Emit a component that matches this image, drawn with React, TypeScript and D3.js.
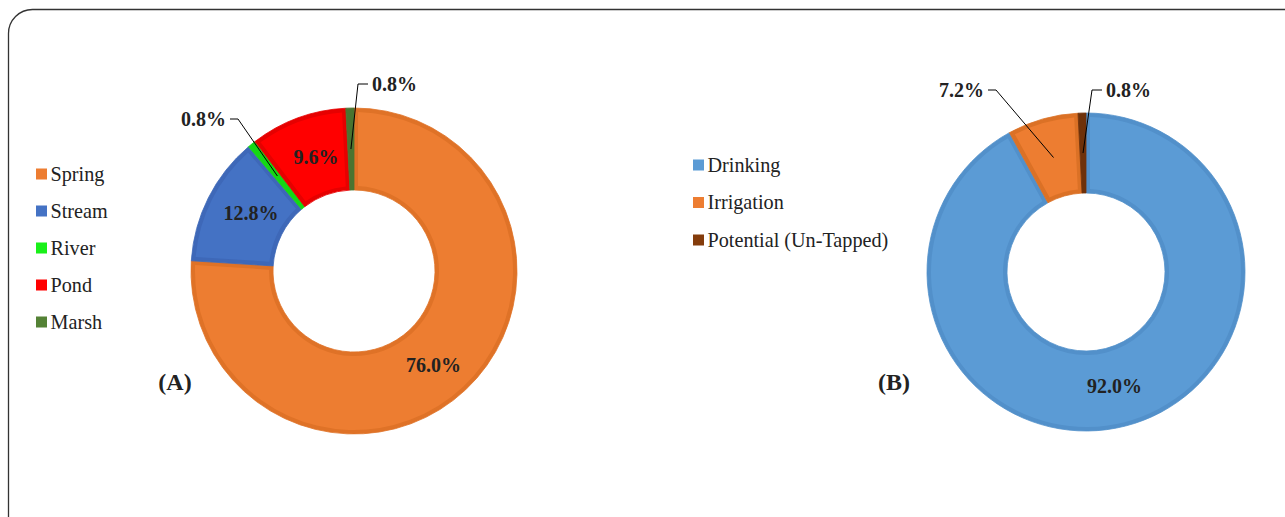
import React from "react";
import * as d3 from "d3";

// ---- Data ----
const sourceCategories = ["Spring", "Stream", "River", "Pond", "Marsh"];
const sourceValues = [76.0, 12.8, 0.8, 9.6, 0.8];
const sourceColors = ["#ED7D31", "#4472C4", "#19F019", "#FF0000", "#548235"];
const sourceEdge = ["#DF7227", "#3E68B8", "#14D814", "#E60000", "#4A7430"];

const useCategories = ["Drinking", "Irrigation", "Potential (Un-Tapped)"];
const useValues = [92.0, 7.2, 0.8];
const useColors = ["#5B9BD5", "#ED7D31", "#843C0C"];
const useEdge = ["#5290CA", "#DB7126", "#6E310A"];

const panelLetters = ["(A)", "(B)"];

const W = 1285;
const H = 517;
const FONT = "Liberation Serif";
const TEXT = "#222";

type DonutProps = {
  cx: number;
  cy: number;
  ro: number;
  ri: number;
  values: number[];
  colors: string[];
  edges: string[];
  outside: Record<number, { lx: number; ly: number; anchor: "start" | "end" }>;
  inOffsets: Record<number, [number, number]>;
};

function Donut({ cx, cy, ro, ri, values, colors, edges, outside, inOffsets }: DonutProps) {
  const pie = d3.pie<number>().sort(null).value((d) => d);
  const arcs = pie(values);
  const full = d3.arc<d3.PieArcDatum<number>>().innerRadius(ri).outerRadius(ro);
  const inner = d3
    .arc<d3.PieArcDatum<number>>()
    .innerRadius(ri + 4)
    .outerRadius(ro - 4)
    .padRadius((ri + ro) / 2)
    .padAngle(8 / ((ri + ro) / 2));
  const mid = d3.arc<d3.PieArcDatum<number>>().innerRadius((ri + ro) / 2).outerRadius((ri + ro) / 2);
  return (
    <g transform={`translate(${cx},${cy})`}>
      {arcs.map((a, i) => (
        <g key={i}>
          <path d={full(a) || ""} fill={edges[i]} stroke={edges[i]} strokeWidth={0.8} />
          {a.endAngle - a.startAngle > 0.1 && <path d={inner(a) || ""} fill={colors[i]} />}
        </g>
      ))}
      {arcs.map((a, i) => {
        const [mx, my] = mid.centroid(a);
        const label = `${values[i].toFixed(1)}%`;
        const o = outside[i];
        if (o) {
          const lx = o.lx - cx;
          const ly = o.ly - cy;
          const gap = o.anchor === "end" ? 4 : -4;
          const elbow = o.anchor === "end" ? 12 : -14;
          return (
            <g key={"l" + i}>
              <polyline
                points={`${lx + gap},${ly} ${lx + elbow},${ly} ${mx},${my}`}
                fill="none"
                stroke="#000"
                strokeWidth={1}
              />
              <text
                x={lx}
                y={ly}
                textAnchor={o.anchor}
                dominantBaseline="central"
                style={{ fontFamily: FONT, fontWeight: "bold", fontSize: 20 }}
                fill={TEXT}
              >
                {label}
              </text>
            </g>
          );
        }
        const off = inOffsets[i] || [0, 0];
        return (
          <text
            key={"l" + i}
            x={mx + off[0]}
            y={my + off[1]}
            textAnchor="middle"
            dominantBaseline="central"
            style={{ fontFamily: FONT, fontWeight: "bold", fontSize: 20 }}
            fill={TEXT}
          >
            {label}
          </text>
        );
      })}
    </g>
  );
}

function Legend({ x, y, step, items, colors }: { x: number; y: number; step: number; items: string[]; colors: string[] }) {
  return (
    <g>
      {items.map((t, i) => (
        <g key={t} transform={`translate(${x},${y + i * step})`}>
          <rect x={0} y={-5.5} width={11} height={11} fill={colors[i]} />
          <text x={14.5} y={6.5} style={{ fontFamily: FONT, fontSize: 20.2 }} fill={TEXT}>
            {t}
          </text>
        </g>
      ))}
    </g>
  );
}

export default function App() {
  return (
    <svg
      width={W}
      height={H}
      style={{ position: "absolute", left: 0, top: 0, background: "#fff", fontFamily: FONT }}
    >
      <rect x={8.5} y={9.5} width={1320} height={560} rx={24} ry={24} fill="#fff" stroke="#333" strokeWidth={1.3} />

      <Donut
        cx={354}
        cy={271}
        ro={163}
        ri={81}
        values={sourceValues}
        colors={sourceColors}
        edges={sourceEdge}
        outside={{
          2: { lx: 226, ly: 119, anchor: "end" },
          4: { lx: 372, ly: 84, anchor: "start" },
        }}
        inOffsets={{ 0: [-4, 5], 1: [6, -3], 3: [4, 1] }}
      />
      <Donut
        cx={1086}
        cy={272}
        ro={159}
        ri={79}
        values={useValues}
        colors={useColors}
        edges={useEdge}
        outside={{
          1: { lx: 984, ly: 90, anchor: "end" },
          2: { lx: 1106, ly: 90, anchor: "start" },
        }}
        inOffsets={{ 0: [-1, -1] }}
      />

      <Legend x={36} y={174} step={37} items={sourceCategories} colors={sourceColors} />
      <Legend x={693} y={165} step={37.5} items={useCategories} colors={useColors} />

      <text x={175} y={382} textAnchor="middle" dominantBaseline="central" style={{ fontFamily: FONT, fontWeight: "bold", fontSize: 24 }} fill={TEXT}>
        {panelLetters[0]}
      </text>
      <text x={894} y={382} textAnchor="middle" dominantBaseline="central" style={{ fontFamily: FONT, fontWeight: "bold", fontSize: 24 }} fill={TEXT}>
        {panelLetters[1]}
      </text>
    </svg>
  );
}
